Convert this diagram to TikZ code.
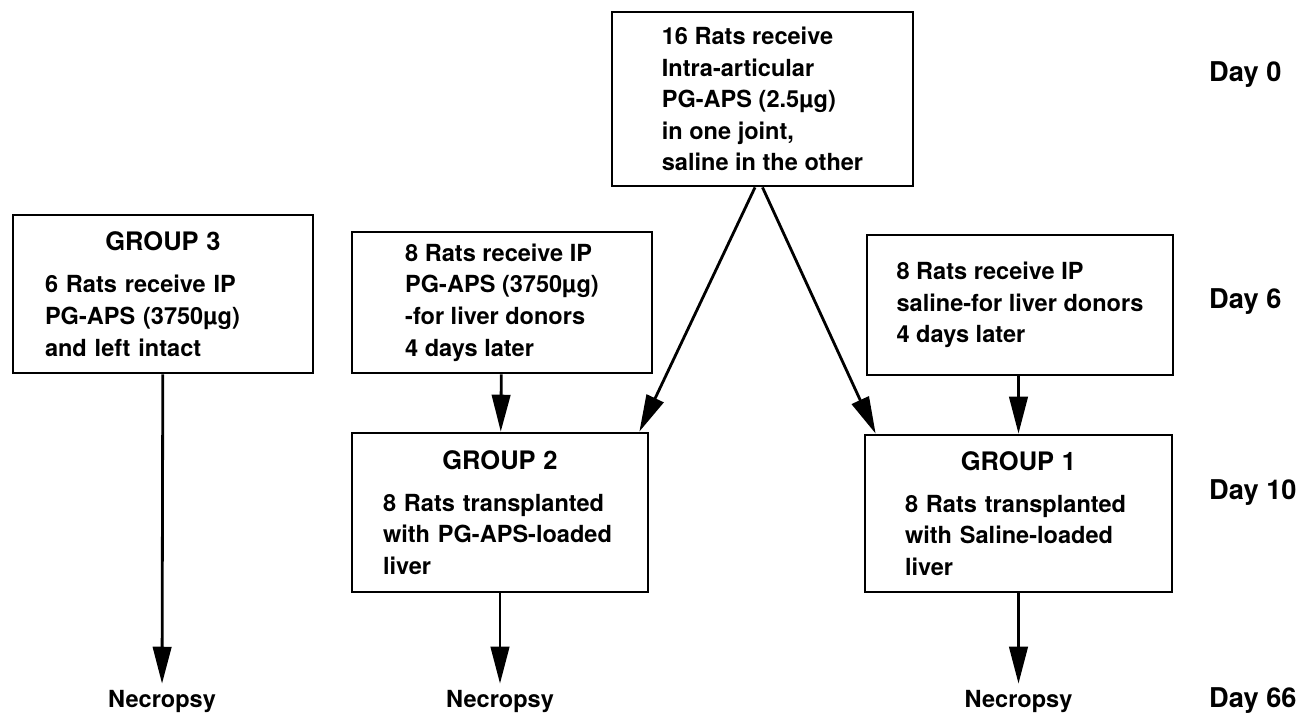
\documentclass[tikz,border=0pt]{standalone}
\usepackage{fontspec}
\setmainfont{TeX Gyre Heros}
\usetikzlibrary{arrows.meta}

\begin{document}
\begin{tikzpicture}[x=0.02cm,y=-0.02cm,
  box/.style={draw,line width=1.6pt,align=left,font=\fontsize{13.4}{18}\selectfont\bfseries},
  arr/.style={line width=1.6pt,-{Triangle[length=21pt,width=10.5pt]}},
  lab/.style={font=\fontsize{13.4}{18}\selectfont\bfseries},
  day/.style={anchor=west,font=\fontsize{15.5}{18}\selectfont\bfseries}]
  \useasboundingbox (0,0) rectangle (1296,717);
  % day 0: joints injected
  \node[box,minimum width=6.02cm,minimum height=3.48cm] (inj) at (762.5,99)
    {16 Rats receive\\Intra-articular\\PG-APS (2.5µg)\\in one joint,\\saline in the other};
  % day 6: donors and group 3
  \node[box,text width=4.72cm,minimum width=6cm,minimum height=3.16cm] (grp3) at (163,294)
    {{\centering\fontsize{14.5}{18}\selectfont GROUP 3\par}\vspace{6pt}6 Rats receive IP\\PG-APS (3750µg)\\and left intact};
  \node[box,minimum width=6cm,minimum height=2.82cm] (pgdon) at (502,302.5)
    {8 Rats receive IP\\PG-APS (3750µg)\\-for liver donors\\4 days later};
  \node[box,minimum width=6.12cm,minimum height=2.8cm] (saldon) at (1020,305)
    {8 Rats receive IP\\saline-for liver donors\\4 days later};
  % day 10: transplanted groups
  \node[box,text width=4.68cm,minimum width=5.92cm,minimum height=3.18cm] (grp2) at (500,512.5)
    {{\centering\fontsize{14.5}{18}\selectfont GROUP 2\par}\vspace{6pt}8 Rats transplanted\\with PG-APS-loaded\\liver};
  \node[box,text width=4.54cm,minimum width=6.14cm,minimum height=3.14cm] (grp1) at (1018.5,513.5)
    {{\centering\fontsize{14.5}{18}\selectfont GROUP 1\par}\vspace{6pt}8 Rats transplanted\\with Saline-loaded\\liver};
  % day 66
  \node[lab] (nec3) at (162,701) {Necropsy};
  \node[lab] (nec2) at (500,701) {Necropsy};
  \node[lab] (nec1) at (1018.5,701) {Necropsy};
  % time scale
  \node[day] (d0) at (1203,75) {Day 0};
  \node[day] (d6) at (1203,302) {Day 6};
  \node[day] (d10) at (1203,493) {Day 10};
  \node[day] (d66) at (1203,701) {Day 66};
  % arrows
  \draw[arr] ([xshift=-0.15cm]inj.south) -- ([xshift=-0.2cm]grp2.north east);
  \draw[arr] (inj.south) -- ([xshift=0.24cm]grp1.north west);
  \draw[arr] (pgdon) -- (grp2);
  \draw[arr] (saldon.south -| grp1.north) -- (grp1.north);
  \draw[arr] (grp3) -- (nec3);
  \draw[arr] (grp2) -- (nec2);
  \draw[arr] (grp1) -- (nec1);
\end{tikzpicture}
\end{document}
